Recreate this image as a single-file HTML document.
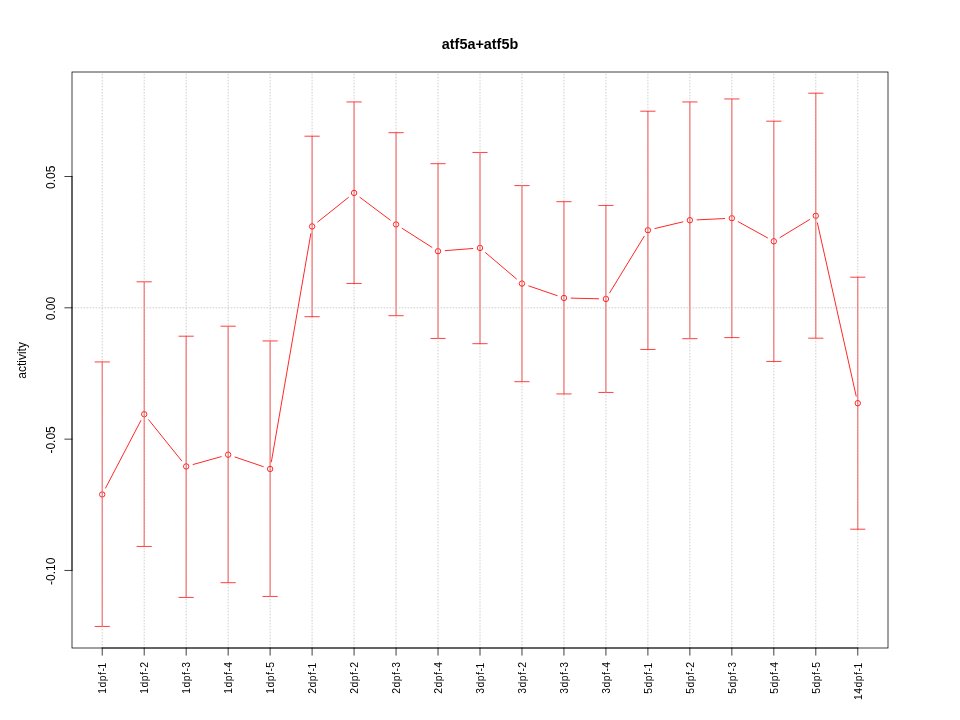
<!DOCTYPE html><html><head><meta charset="utf-8"><style>html,body{margin:0;padding:0;background:#fff}svg{display:block;will-change:transform}line,path{stroke-linecap:round;stroke-linejoin:round}text{font-family:"Liberation Sans",sans-serif;fill:#000}</style></head><body>
<svg width="960" height="720" viewBox="0 0 960 720">
<rect width="960" height="720" fill="#fff"/>
<g stroke="#ff0000" stroke-width="0.75" fill="none">
<path d="M102.22 361.95 V626.45 M95.02 361.95 H109.42 M95.02 626.45 H109.42"/>
<path d="M144.20 281.8 V546.45 M137.00 281.8 H151.40 M137.00 546.45 H151.40"/>
<path d="M186.17 336.2 V597.45 M178.97 336.2 H193.37 M178.97 597.45 H193.37"/>
<path d="M228.15 326.2 V582.7 M220.95 326.2 H235.35 M220.95 582.7 H235.35"/>
<path d="M270.12 340.95 V596.45 M262.92 340.95 H277.32 M262.92 596.45 H277.32"/>
<path d="M312.10 136.2 V316.7 M304.90 136.2 H319.30 M304.90 316.7 H319.30"/>
<path d="M354.07 101.95 V283.45 M346.87 101.95 H361.27 M346.87 283.45 H361.27"/>
<path d="M396.05 132.7 V315.7 M388.85 132.7 H403.25 M388.85 315.7 H403.25"/>
<path d="M438.02 163.7 V338.45 M430.82 163.7 H445.22 M430.82 338.45 H445.22"/>
<path d="M480.00 152.45 V343.7 M472.80 152.45 H487.20 M472.80 343.7 H487.20"/>
<path d="M521.97 185.6 V381.7 M514.77 185.6 H529.17 M514.77 381.7 H529.17"/>
<path d="M563.95 201.7 V393.95 M556.75 201.7 H571.15 M556.75 393.95 H571.15"/>
<path d="M605.92 205.45 V392.45 M598.72 205.45 H613.12 M598.72 392.45 H613.12"/>
<path d="M647.90 111.2 V349.45 M640.70 111.2 H655.10 M640.70 349.45 H655.10"/>
<path d="M689.87 101.95 V338.7 M682.67 101.95 H697.07 M682.67 338.7 H697.07"/>
<path d="M731.85 98.95 V337.59999999999997 M724.65 98.95 H739.05 M724.65 337.59999999999997 H739.05"/>
<path d="M773.82 121.2 V361.45 M766.62 121.2 H781.02 M766.62 361.45 H781.02"/>
<path d="M815.80 93.2 V338.2 M808.60 93.2 H823.00 M808.60 338.2 H823.00"/>
<path d="M857.77 277.2 V529.2 M850.57 277.2 H864.97 M850.57 529.2 H864.97"/>
<line stroke-width="0.85" x1="105.56" y1="488.07" x2="140.86" y2="420.58"/>
<line stroke-width="0.85" x1="148.71" y1="419.81" x2="181.66" y2="460.84"/>
<line stroke-width="0.85" x1="193.11" y1="464.51" x2="221.21" y2="456.64"/>
<line stroke-width="0.85" x1="234.96" y1="457.01" x2="263.30" y2="466.64"/>
<line stroke-width="0.85" x1="271.35" y1="461.86" x2="310.87" y2="233.54"/>
<line stroke-width="0.85" x1="317.72" y1="221.96" x2="348.44" y2="197.44"/>
<line stroke-width="0.85" x1="359.83" y1="197.27" x2="390.29" y2="220.13"/>
<line stroke-width="0.85" x1="402.12" y1="228.32" x2="431.95" y2="247.33"/>
<line stroke-width="0.85" x1="445.20" y1="250.64" x2="472.82" y2="248.51"/>
<line stroke-width="0.85" x1="485.48" y1="252.61" x2="516.48" y2="278.94"/>
<line stroke-width="0.85" x1="528.78" y1="285.93" x2="557.13" y2="295.62"/>
<line stroke-width="0.85" x1="571.14" y1="298.12" x2="598.72" y2="298.78"/>
<line stroke-width="0.85" x1="609.67" y1="292.80" x2="644.15" y2="236.35"/>
<line stroke-width="0.85" x1="654.90" y1="228.53" x2="682.87" y2="221.87"/>
<line stroke-width="0.85" x1="697.06" y1="219.86" x2="724.66" y2="218.54"/>
<line stroke-width="0.85" x1="738.15" y1="221.67" x2="767.51" y2="237.83"/>
<line stroke-width="0.85" x1="779.98" y1="237.56" x2="809.64" y2="219.54"/>
<line stroke-width="0.85" x1="817.37" y1="222.83" x2="856.20" y2="396.17"/>
<circle stroke-width="0.85" cx="102.22" cy="494.45" r="2.7"/>
<circle stroke-width="0.85" cx="144.20" cy="414.20" r="2.7"/>
<circle stroke-width="0.85" cx="186.17" cy="466.45" r="2.7"/>
<circle stroke-width="0.85" cx="228.15" cy="454.70" r="2.7"/>
<circle stroke-width="0.85" cx="270.12" cy="468.95" r="2.7"/>
<circle stroke-width="0.85" cx="312.10" cy="226.45" r="2.7"/>
<circle stroke-width="0.85" cx="354.07" cy="192.95" r="2.7"/>
<circle stroke-width="0.85" cx="396.05" cy="224.45" r="2.7"/>
<circle stroke-width="0.85" cx="438.02" cy="251.20" r="2.7"/>
<circle stroke-width="0.85" cx="480.00" cy="247.95" r="2.7"/>
<circle stroke-width="0.85" cx="521.97" cy="283.60" r="2.7"/>
<circle stroke-width="0.85" cx="563.95" cy="297.95" r="2.7"/>
<circle stroke-width="0.85" cx="605.92" cy="298.95" r="2.7"/>
<circle stroke-width="0.85" cx="647.90" cy="230.20" r="2.7"/>
<circle stroke-width="0.85" cx="689.87" cy="220.20" r="2.7"/>
<circle stroke-width="0.85" cx="731.85" cy="218.20" r="2.7"/>
<circle stroke-width="0.85" cx="773.82" cy="241.30" r="2.7"/>
<circle stroke-width="0.85" cx="815.80" cy="215.80" r="2.7"/>
<circle stroke-width="0.85" cx="857.77" cy="403.20" r="2.7"/>
</g>
<g stroke="#bebebe" stroke-width="0.75" stroke-dasharray="0.75 2.25" fill="none">
<line x1="102.22" y1="648" x2="102.22" y2="72"/>
<line x1="144.20" y1="648" x2="144.20" y2="72"/>
<line x1="186.17" y1="648" x2="186.17" y2="72"/>
<line x1="228.15" y1="648" x2="228.15" y2="72"/>
<line x1="270.12" y1="648" x2="270.12" y2="72"/>
<line x1="312.10" y1="648" x2="312.10" y2="72"/>
<line x1="354.07" y1="648" x2="354.07" y2="72"/>
<line x1="396.05" y1="648" x2="396.05" y2="72"/>
<line x1="438.02" y1="648" x2="438.02" y2="72"/>
<line x1="480.00" y1="648" x2="480.00" y2="72"/>
<line x1="521.97" y1="648" x2="521.97" y2="72"/>
<line x1="563.95" y1="648" x2="563.95" y2="72"/>
<line x1="605.92" y1="648" x2="605.92" y2="72"/>
<line x1="647.90" y1="648" x2="647.90" y2="72"/>
<line x1="689.87" y1="648" x2="689.87" y2="72"/>
<line x1="731.85" y1="648" x2="731.85" y2="72"/>
<line x1="773.82" y1="648" x2="773.82" y2="72"/>
<line x1="815.80" y1="648" x2="815.80" y2="72"/>
<line x1="857.77" y1="648" x2="857.77" y2="72"/>
<line x1="72" y1="307.8" x2="888" y2="307.8"/>
</g>
<rect x="72" y="72" width="816" height="576" fill="none" stroke="#000" stroke-width="0.75"/>
<g stroke="#000" stroke-width="0.75" fill="none">
<line x1="102.22" y1="648" x2="857.77" y2="648"/>
<line x1="102.22" y1="648" x2="102.22" y2="655.2"/>
<line x1="144.20" y1="648" x2="144.20" y2="655.2"/>
<line x1="186.17" y1="648" x2="186.17" y2="655.2"/>
<line x1="228.15" y1="648" x2="228.15" y2="655.2"/>
<line x1="270.12" y1="648" x2="270.12" y2="655.2"/>
<line x1="312.10" y1="648" x2="312.10" y2="655.2"/>
<line x1="354.07" y1="648" x2="354.07" y2="655.2"/>
<line x1="396.05" y1="648" x2="396.05" y2="655.2"/>
<line x1="438.02" y1="648" x2="438.02" y2="655.2"/>
<line x1="480.00" y1="648" x2="480.00" y2="655.2"/>
<line x1="521.97" y1="648" x2="521.97" y2="655.2"/>
<line x1="563.95" y1="648" x2="563.95" y2="655.2"/>
<line x1="605.92" y1="648" x2="605.92" y2="655.2"/>
<line x1="647.90" y1="648" x2="647.90" y2="655.2"/>
<line x1="689.87" y1="648" x2="689.87" y2="655.2"/>
<line x1="731.85" y1="648" x2="731.85" y2="655.2"/>
<line x1="773.82" y1="648" x2="773.82" y2="655.2"/>
<line x1="815.80" y1="648" x2="815.80" y2="655.2"/>
<line x1="857.77" y1="648" x2="857.77" y2="655.2"/>
<line x1="72" y1="176.5" x2="72" y2="570.46"/>
<line x1="72" y1="176.5" x2="64.8" y2="176.5"/>
<line x1="72" y1="307.8" x2="64.8" y2="307.8"/>
<line x1="72" y1="439.15" x2="64.8" y2="439.15"/>
<line x1="72" y1="570.46" x2="64.8" y2="570.46"/>
</g>
<text font-size="12" text-anchor="middle" transform="translate(55.4 177.25) rotate(-90)">0.05</text>
<text font-size="12" text-anchor="middle" transform="translate(55.4 308.55) rotate(-90)">0.00</text>
<text font-size="12" text-anchor="middle" transform="translate(55.4 439.9) rotate(-90)">-0.05</text>
<text font-size="12" text-anchor="middle" transform="translate(55.4 571.21) rotate(-90)">-0.10</text>
<text font-size="10.4" letter-spacing="0.47" text-anchor="end" transform="translate(105.90 662.3) rotate(-90)">1dpf-<tspan dx="-0.9">1</tspan></text>
<text font-size="10.4" letter-spacing="0.47" text-anchor="end" transform="translate(147.90 661.4) rotate(-90)">1dpf-2</text>
<text font-size="10.4" letter-spacing="0.47" text-anchor="end" transform="translate(189.90 661.4) rotate(-90)">1dpf-3</text>
<text font-size="10.4" letter-spacing="0.47" text-anchor="end" transform="translate(231.90 661.4) rotate(-90)">1dpf-4</text>
<text font-size="10.4" letter-spacing="0.47" text-anchor="end" transform="translate(273.90 661.4) rotate(-90)">1dpf-5</text>
<text font-size="10.4" letter-spacing="0.47" text-anchor="end" transform="translate(315.90 662.3) rotate(-90)">2dpf-<tspan dx="-0.9">1</tspan></text>
<text font-size="10.4" letter-spacing="0.47" text-anchor="end" transform="translate(357.90 661.4) rotate(-90)">2dpf-2</text>
<text font-size="10.4" letter-spacing="0.47" text-anchor="end" transform="translate(399.90 661.4) rotate(-90)">2dpf-3</text>
<text font-size="10.4" letter-spacing="0.47" text-anchor="end" transform="translate(441.90 661.4) rotate(-90)">2dpf-4</text>
<text font-size="10.4" letter-spacing="0.47" text-anchor="end" transform="translate(483.90 662.3) rotate(-90)">3dpf-<tspan dx="-0.9">1</tspan></text>
<text font-size="10.4" letter-spacing="0.47" text-anchor="end" transform="translate(525.90 661.4) rotate(-90)">3dpf-2</text>
<text font-size="10.4" letter-spacing="0.47" text-anchor="end" transform="translate(567.90 661.4) rotate(-90)">3dpf-3</text>
<text font-size="10.4" letter-spacing="0.47" text-anchor="end" transform="translate(609.90 661.4) rotate(-90)">3dpf-4</text>
<text font-size="10.4" letter-spacing="0.47" text-anchor="end" transform="translate(651.90 662.3) rotate(-90)">5dpf-<tspan dx="-0.9">1</tspan></text>
<text font-size="10.4" letter-spacing="0.47" text-anchor="end" transform="translate(693.90 661.4) rotate(-90)">5dpf-2</text>
<text font-size="10.4" letter-spacing="0.47" text-anchor="end" transform="translate(735.90 661.4) rotate(-90)">5dpf-3</text>
<text font-size="10.4" letter-spacing="0.47" text-anchor="end" transform="translate(777.90 661.4) rotate(-90)">5dpf-4</text>
<text font-size="10.4" letter-spacing="0.47" text-anchor="end" transform="translate(819.90 661.4) rotate(-90)">5dpf-5</text>
<text font-size="10.4" letter-spacing="0.47" text-anchor="end" transform="translate(861.90 662.3) rotate(-90)">14dpf-<tspan dx="-0.9">1</tspan></text>
<text font-size="12" text-anchor="middle" transform="translate(26.3 360.4) rotate(-90)">activity</text>
<text font-size="14.4" font-weight="bold" text-anchor="middle" x="480" y="48.5">atf5a+atf5b</text>
</svg></body></html>
